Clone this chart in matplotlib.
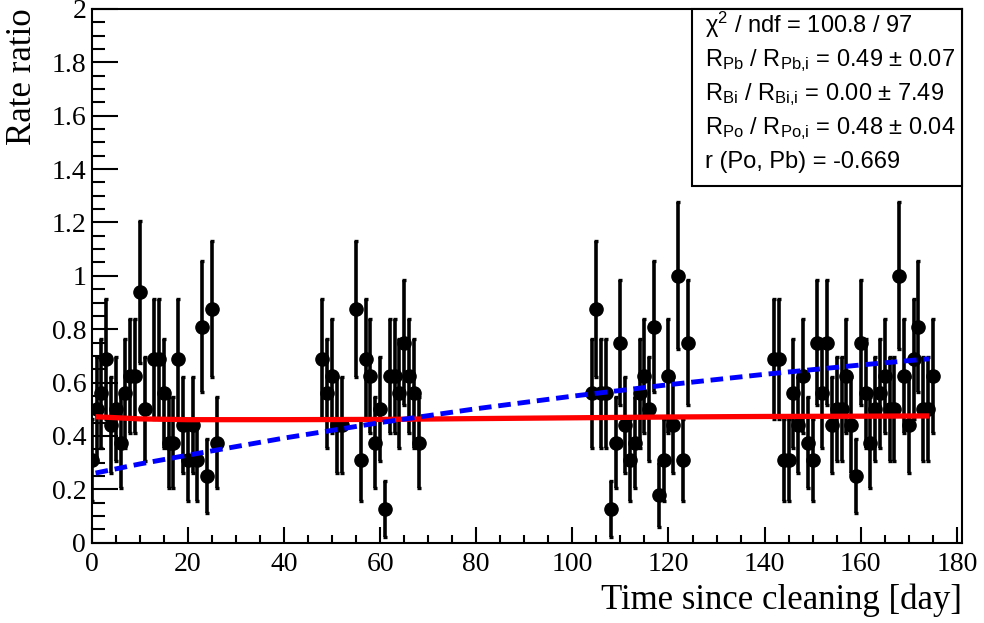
import matplotlib
matplotlib.use('Agg')
from matplotlib import pyplot as plt
from matplotlib.patches import Rectangle
from matplotlib.ticker import MultipleLocator, FixedLocator, FixedFormatter


# data  --------------------------------

days_a = [0, 1, 2, 3, 4, 5, 6, 7, 8, 9, 10, 11, 13, 14, 15, 16, 17, 18, 19, 20, 21, 22, 23, 24, 25, 26]
rate_a = [0.31, 0.50, 0.56, 0.69, 0.44, 0.50, 0.375, 0.56, 0.625, 0.625, 0.94, 0.50, 0.69,
          0.69, 0.56, 0.375, 0.375, 0.69, 0.44, 0.31, 0.44, 0.31, 0.81, 0.25, 0.875, 0.375]
err_a = [0.155, 0.195, 0.205, 0.225, 0.18, 0.195, 0.17, 0.205, 0.215, 0.215, 0.265, 0.195, 0.225,
         0.225, 0.205, 0.17, 0.17, 0.225, 0.18, 0.155, 0.18, 0.155, 0.245, 0.14, 0.255, 0.17]

days_b = [48, 49, 50, 51, 52, 55, 56, 57, 58, 59, 60, 61, 62, 63, 64, 65, 66, 67, 68]
rate_b = [0.69, 0.56, 0.625, 0.44, 0.44, 0.875, 0.31, 0.69, 0.625, 0.375, 0.50, 0.125,
          0.625, 0.625, 0.56, 0.75, 0.625, 0.56, 0.375]
err_b = [0.225, 0.205, 0.215, 0.18, 0.18, 0.255, 0.155, 0.225, 0.215, 0.17, 0.195, 0.105,
         0.215, 0.215, 0.205, 0.235, 0.215, 0.205, 0.17]

days_c = [104, 105, 106, 107, 108, 109, 110, 111, 112, 113, 114, 115, 116, 117, 118, 119,
          120, 121, 122, 123, 124]
rate_c = [0.56, 0.875, 0.56, 0.56, 0.125, 0.375, 0.75, 0.44, 0.31, 0.375, 0.56, 0.625, 0.50,
          0.81, 0.18, 0.31, 0.625, 0.44, 1.00, 0.31, 0.75]
err_c = [0.205, 0.255, 0.205, 0.205, 0.105, 0.17, 0.235, 0.18, 0.155, 0.17, 0.205, 0.215, 0.195,
         0.245, 0.12, 0.155, 0.215, 0.18, 0.275, 0.155, 0.235]

days_d = [142, 143, 144, 145, 146, 147, 148, 149, 150, 151, 152, 153, 154, 155, 156, 157, 158,
          159, 160, 161, 162, 163, 164, 165, 166, 167, 168, 169, 170, 171, 172, 173, 174, 175]
rate_d = [0.69, 0.69, 0.31, 0.31, 0.56, 0.44, 0.625, 0.375, 0.31, 0.75, 0.56, 0.75, 0.44, 0.50,
          0.50, 0.625, 0.44, 0.25, 0.75, 0.56, 0.375, 0.50, 0.56, 0.625, 0.50, 0.50, 1.00, 0.625,
          0.44, 0.69, 0.81, 0.50, 0.50, 0.625]
err_d = [0.225, 0.225, 0.155, 0.155, 0.205, 0.18, 0.215, 0.17, 0.155, 0.235, 0.205, 0.235, 0.18,
         0.195, 0.195, 0.215, 0.18, 0.14, 0.235, 0.205, 0.17, 0.195, 0.205, 0.215, 0.195, 0.195,
         0.275, 0.215, 0.18, 0.225, 0.245, 0.195, 0.195, 0.215]

# fit curves (red = total, blue dashed = Po component)
fit_days = [0.8, 10, 20, 40, 60, 80, 100, 120, 140, 160, 174.2]
fit_red = [0.472, 0.464, 0.461, 0.461, 0.462, 0.465, 0.468, 0.471, 0.473, 0.474, 0.475]
fit_blue = [0.261, 0.295, 0.328, 0.392, 0.450, 0.502, 0.549, 0.592, 0.631, 0.666, 0.689]

x_ticks = [0, 20, 40, 60, 80, 100, 120, 140, 160, 180]
y_ticks = [0, 0.2, 0.4, 0.6, 0.8, 1.0, 1.2, 1.4, 1.6, 1.8, 2.0]
y_labels = ['0', '0.2', '0.4', '0.6', '0.8', '1', '1.2', '1.4', '1.6', '1.8', '2']

stats_lines = [
    'χ$^{2}$ / ndf = 100.8 / 97',
    'R$_{\\rm Pb}$ / R$_{\\rm Pb{,}i}$ = 0.49 ± 0.07',
    'R$_{\\rm Bi}$ / R$_{\\rm Bi{,}i}$ = 0.00 ± 7.49',
    'R$_{\\rm Po}$ / R$_{\\rm Po{,}i}$ = 0.48 ± 0.04',
    'r (Po, Pb) = -0.669',
]


plt.rcParams['font.family'] = 'Liberation Serif'
plt.rcParams['mathtext.fontset'] = 'custom'
plt.rcParams['mathtext.rm'] = 'Liberation Sans'
plt.rcParams['mathtext.it'] = 'Liberation Sans:italic'

fig = plt.figure(figsize=(9.84, 6.23), dpi=100)
ax = fig.add_axes([0.0932, 0.1289, 0.8841, 0.8567])

for d, r, e in [(days_a, rate_a, err_a), (days_b, rate_b, err_b),
                (days_c, rate_c, err_c), (days_d, rate_d, err_d)]:
    ax.errorbar(d, r, yerr=e, fmt='o', color='black', ms=9.5, elinewidth=2.6,
                capsize=1.6, capthick=2.4, zorder=3)

ax.plot(fit_days, fit_red, color='red', lw=3.8, solid_capstyle='butt', zorder=4)
ax.plot(fit_days, fit_blue, color='blue', lw=3.5, linestyle=(0, (2.6, 1.4)),
        dash_capstyle='butt', zorder=4)

ax.set_xlim(0, 181)
ax.set_ylim(0, 2)

ax.xaxis.set_major_locator(FixedLocator(x_ticks))
ax.xaxis.set_minor_locator(MultipleLocator(5))
ax.yaxis.set_major_locator(FixedLocator(y_ticks))
ax.yaxis.set_major_formatter(FixedFormatter(y_labels))
ax.yaxis.set_minor_locator(MultipleLocator(0.05))

ax.tick_params(axis='x', which='major', direction='in', length=11.5, width=1.5, labelsize=20, pad=7)
ax.tick_params(axis='x', which='minor', direction='in', length=5.8, width=1.5)
ax.tick_params(axis='y', which='major', direction='in', length=18.7, width=1.5, labelsize=20, pad=4)
ax.tick_params(axis='y', which='minor', direction='in', length=9.4, width=1.5)
for sp in ax.spines.values():
    sp.set_linewidth(1.5)

ax.set_xlabel('Time since cleaning [day]', fontsize=25, ha='right', va='center')
ax.xaxis.set_label_coords(1.0, -0.107)
ax.set_ylabel('Rate ratio', fontsize=25)
ax.yaxis.label.set_rotation_mode('default')
ax.yaxis.label.set_ha('center')
ax.yaxis.label.set_va('top')
ax.yaxis.set_label_coords(-0.080, 1.002)

# stats box  -------------
box = Rectangle((0.6897, 0.6684), 0.3103, 0.3316, transform=ax.transAxes,
                facecolor='white', edgecolor='black', lw=1.5, zorder=5, clip_on=False)
ax.add_patch(box)
baselines = [0.9545, 0.8932, 0.8295, 0.7649, 0.7015]
for txt, yb in zip(stats_lines, baselines):
    ax.text(0.705, yb, txt, transform=ax.transAxes, fontsize=17, family='Liberation Sans',
            ha='left', va='baseline', zorder=6)

plt.savefig('out.png', dpi=100)
